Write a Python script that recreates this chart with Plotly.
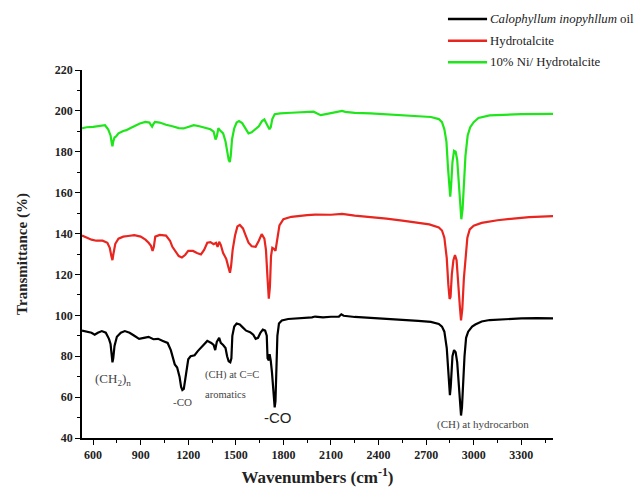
import plotly.graph_objects as go

# ---- data (wavenumber, transmittance) ----
oil_wn = [530, 560, 590, 610, 630, 655, 680, 700, 710, 718, 722, 727, 735, 750, 775, 800, 830, 860, 890, 920,
          950, 980, 1010, 1040, 1070, 1090, 1100, 1115, 1130, 1145, 1155, 1163, 1172, 1180, 1190, 1200, 1215,
          1240, 1260, 1290, 1320, 1345, 1360, 1370, 1380, 1395, 1405, 1420, 1435, 1445, 1455, 1465, 1472, 1478,
          1490, 1505, 1525, 1545, 1565, 1590, 1610, 1625, 1640, 1655, 1670, 1685, 1695, 1700, 1708, 1713, 1720,
          1728, 1738, 1745, 1750, 1756, 1762, 1772, 1790, 1830, 1900, 1980, 2000, 2050, 2100, 2150, 2165, 2180,
          2250, 2350, 2450, 2550, 2650, 2730, 2780, 2800, 2815, 2830, 2838, 2845, 2850, 2855, 2860, 2866, 2876,
          2886, 2896, 2905, 2914, 2920, 2926, 2934, 2942, 2952, 2965, 2975, 2990, 3010, 3050, 3100, 3200, 3300,
          3400, 3500]
oil_t = [92.5, 92, 91.5, 90.5, 91.5, 92.3, 91.5, 88.5, 86, 80, 77, 79, 85, 89.5, 91.5, 92.3, 91.5, 90, 88.5, 89,
         89.5, 88.3, 88.5, 87.5, 86.5, 83, 80, 76, 74.5, 70, 65, 63.5, 64, 68, 74, 78.5, 80,
         80.5, 82.5, 85, 87.5, 86.5, 85.5, 83, 87, 89, 86.5, 85.5, 84, 80, 77.5, 77, 79, 90,
         94.5, 96, 95.5, 94, 92.5, 91.8, 90.5, 88.5, 89, 91.5, 93, 92.5, 90, 79, 78, 81, 78,
         72, 60, 55, 58, 75, 90, 96, 97.5, 98.2, 98.5, 99, 99.4, 99, 99.3, 99.4, 100.5, 99.8,
         99.2, 98.8, 98.3, 97.8, 97.3, 96.8, 95.8, 94.5, 92, 84, 72, 62, 61, 65, 72, 80, 83,
         82, 77, 68, 56, 51, 55, 68, 80, 89, 92, 93, 94.5, 95.5, 97, 97.7, 98.2, 98.5,
         98.6, 98.5]

ht_wn = [530, 560, 590, 620, 660, 690, 705, 715, 722, 728, 740, 760, 790, 820, 860, 900, 930, 950, 965, 975,
         983, 992, 1020, 1060, 1085, 1100, 1120, 1140, 1160, 1180, 1200, 1230, 1255, 1280, 1300, 1320, 1340,
         1360, 1375, 1385, 1395, 1405, 1420, 1440, 1455, 1463, 1470, 1480, 1495, 1510, 1525, 1545, 1560, 1580,
         1600, 1625, 1645, 1663, 1680, 1690, 1700, 1708, 1715, 1722, 1730, 1740, 1750, 1760, 1775, 1800, 1850,
         1950, 2000, 2100, 2170, 2250, 2350, 2450, 2550, 2650, 2720, 2780, 2800, 2815, 2830, 2840, 2848, 2854,
         2862, 2872, 2882, 2892, 2902, 2912, 2920, 2928, 2938, 2948, 2960, 2975, 3000, 3050, 3150, 3250, 3350,
         3500]
ht_t = [139, 138, 137, 136.5, 136.5, 135.5, 133, 129, 127, 130, 135, 137.5, 138.5, 138.8, 139.2, 138.5, 137,
        135.5, 134, 131.5, 133.5, 138.5, 139.3, 139, 136.5, 133.5, 131, 129, 128.3, 129.5, 131.5, 131.5,
        130.5, 129.8, 132, 135.5, 135.8, 134.8, 135.5, 133.5, 136, 134.5, 130.5, 127.5, 123, 120.8, 124, 132,
        139, 143.5, 144.2, 142.5, 139.5, 135.5, 133.8, 133.5, 136.5, 139.7, 137.5, 132, 118, 108.2, 114, 129,
        133, 132.5, 131.5, 136, 144, 147, 148.2, 149, 149.3, 149.2, 149.6, 148.8, 148.2, 147.3, 146.3, 145.3,
        144.5, 143, 141.5, 138, 128, 115, 108, 109, 120, 127, 129.5, 127, 118, 105, 97.5, 103, 118, 128, 138,
        142, 143.8, 145.2, 146.5, 147.3, 148, 148.5]

ni_wn = [530, 560, 600, 640, 675, 695, 710, 718, 722, 727, 735, 745, 760, 790, 810, 830, 860, 895, 930, 955,
         965, 972, 980, 990, 1020, 1060, 1100, 1140, 1170, 1200, 1235, 1270, 1310, 1340, 1360, 1372, 1380, 1390,
         1400, 1420, 1435, 1445, 1455, 1462, 1468, 1476, 1490, 1505, 1520, 1540, 1560, 1580, 1600, 1625, 1645,
         1665, 1680, 1692, 1702, 1712, 1720, 1730, 1745, 1780, 1850, 1920, 1990, 2010, 2035, 2060, 2100, 2150,
         2170, 2190, 2250, 2350, 2450, 2550, 2650, 2730, 2780, 2800, 2815, 2828, 2838, 2846, 2852, 2858, 2866,
         2876, 2886, 2896, 2906, 2914, 2922, 2930, 2938, 2948, 2962, 2978, 3000, 3030, 3100, 3200, 3300, 3500]
ni_t = [191.5, 192, 192.2, 192.8, 193, 191, 188, 184, 182.7, 185, 187, 187.5, 189, 190.2, 190.6, 191.4, 192.5,
        193.8, 194.6, 194.3, 193, 192.3, 193.5, 194.6, 194.3, 193.2, 192.5, 191.6, 191.4, 192, 193, 192.5,
        191.5, 191, 189.8, 186, 187.5, 191.5, 190.5, 189, 185, 180, 176, 175, 178, 186, 191.5, 194.3, 195,
        194, 191.5, 189, 189.5, 191, 192.5, 195, 195.8, 194, 192, 191, 192, 196, 198.4, 198.8, 199.1, 199.3,
        199.6, 198.8, 197.9, 198.3, 199, 199.5, 200, 199.5, 199, 198.8, 198.4, 198, 197.5, 197, 196, 194.5,
        191, 185, 172, 160, 158, 164, 175, 180.5, 180, 176, 165, 155, 147, 152, 165, 178, 188, 192, 194.5,
        196.5, 197.8, 198.2, 198.4, 198.5]

series_names = ["<i>Calophyllum inopyhllum</i> oil", "Hydrotalcite", "10% Ni/ Hydrotalcite"]
x_ticks = [600, 900, 1200, 1500, 1800, 2100, 2400, 2700, 3000, 3300]
y_ticks = [40, 60, 80, 100, 120, 140, 160, 180, 200, 220]

# annotation labels (text, wavenumber, transmittance, font size)
labels = [
    ("(CH<sub>2</sub>)<sub>n</sub>", 724, 68.5, 13),
    ("-CO", 1161, 57.4, 11),
    ("(CH) at C=C", 1476, 71, 10.5),
    ("aromatics", 1432, 61.2, 10.5),
    ("(CH) at hydrocarbon", 3061, 46.7, 11),
]
big_co = ("-CO", 1763, 50)

SERIF = "Liberation Serif, Times New Roman, serif"
colors = ["#000000", "#e8251f", "#1fe61a"]

fig = go.Figure()
for i, (xs, ys) in enumerate([(oil_wn, oil_t), (ht_wn, ht_t), (ni_wn, ni_t)]):
    fig.add_trace(go.Scatter(x=xs, y=ys, mode="lines", name=series_names[i],
                             line=dict(color=colors[i], width=2.2), showlegend=False))

for txt, xv, yv, fs in labels:
    fig.add_annotation(x=xv, y=yv, xref="x", yref="y", text=txt, showarrow=False,
                       font=dict(family=SERIF, size=fs, color="#444444"))
fig.add_annotation(x=big_co[1], y=big_co[2], xref="x", yref="y", text=big_co[0], showarrow=False,
                   font=dict(family="Liberation Sans, Arial, sans-serif", size=15, color="#222222"))

# legend drawn in paper coordinates (keeps the plot area fixed)
leg_rows_y = [1.1386, 1.0796, 1.0209]
for i, name in enumerate(series_names):
    fig.add_shape(type="line", xref="paper", yref="paper", x0=0.777, x1=0.860,
                  y0=leg_rows_y[i], y1=leg_rows_y[i], line=dict(color=colors[i], width=2.5))
    fig.add_annotation(xref="paper", yref="paper", x=0.862, y=leg_rows_y[i], text=name,
                       showarrow=False, xanchor="left", yanchor="middle",
                       font=dict(family=SERIF, size=12.8, color="#222222"))

axis_common = dict(showline=True, linecolor="black", linewidth=1.5, ticks="outside", ticklen=5,
                   tickwidth=1.2, tickcolor="black", showgrid=False, zeroline=False,
                   tickfont=dict(family=SERIF, size=12, color="#222222", weight="bold"))

fig.update_xaxes(range=[530, 3500], tickvals=x_ticks,
                 minor=dict(ticks="outside", ticklen=3, tickcolor="black", tick0=750, dtick=300),
                 title=dict(text="Wavenumbers (cm<sup>-1</sup>)", standoff=10,
                            font=dict(family=SERIF, size=17, color="#222222", weight="bold")),
                 **axis_common)
fig.update_yaxes(range=[40, 220], tickvals=y_ticks,
                 minor=dict(ticks="outside", ticklen=3, tickcolor="black", tick0=50, dtick=20),
                 title=dict(text="Transmittance (%)", standoff=24,
                            font=dict(family=SERIF, size=15, color="#222222", weight="bold")),
                 **axis_common)

# page body adds an 8px offset, so the figure is sized/margined to compensate
fig.update_layout(
    width=635, height=489,
    margin=dict(l=74, r=90, t=62, b=59),
    paper_bgcolor="white", plot_bgcolor="white",
    showlegend=False,
)

fig.write_html("out.html")
